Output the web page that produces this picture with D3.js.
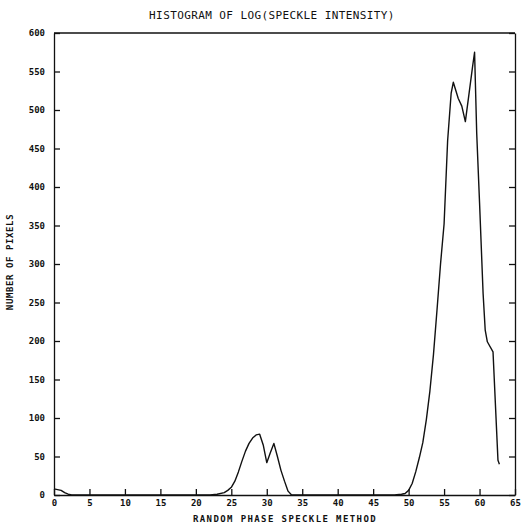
<!DOCTYPE html>
<html>
<head>
<meta charset="utf-8">
<script src="https://cdn.jsdelivr.net/npm/d3@7"></script>
<style>
  body { margin: 0; background: #fff; }
  svg { display: block; }
  .axis text { font-family: "DejaVu Sans Mono", monospace; font-weight: bold; font-size: 9px; fill: #111; }
  .axis path, .axis line { stroke: #111; stroke-width: 1.3; }
  .lbl { font-family: "DejaVu Sans Mono", monospace; fill: #111; }
</style>
</head>
<body>
<svg width="522" height="529"></svg>
<script>
// log intensity bins (x) and pixel counts (y)
const logIntensity = [0, 0.5, 1, 1.5, 2, 2.5, 10, 20, 22, 23, 24, 24.5, 25, 25.5, 26, 26.5, 27, 27.5, 28, 28.5, 29,
  29.5, 30, 30.5, 31, 31.5, 32, 32.5, 33, 33.5, 40, 48, 49, 49.5, 50, 50.5, 51, 51.5, 52, 52.5, 53, 53.5, 54, 54.5,
  55, 55.5, 56, 56.3, 57, 57.5, 58, 58.5, 59, 59.3, 59.6, 60, 60.5, 60.8, 61.1, 61.9, 62.6, 62.8]
const pixelCount = [8, 7, 6, 3, 1, 0, 0, 0, 0, 1, 3, 6, 10, 18, 30, 44, 57, 67, 74, 78, 79,
  65, 42, 55, 67, 50, 32, 18, 5, 0, 0, 0, 1, 2, 6, 15, 30, 48, 68, 98, 135, 182, 240, 300,
  352, 460, 522, 536, 515, 505, 485, 520, 555, 575, 470, 380, 262, 214, 199, 186, 45, 40]

const xTicks = d3.range(0, 66, 5)
const yTicks = d3.range(0, 601, 50)

const LEFT = 54, RIGHT = 515, TOP = 33, BOTTOM = 495

const x = d3.scaleLinear().domain([0, 65]).range([LEFT, RIGHT])
const y = d3.scaleLinear().domain([0, 600]).range([BOTTOM, TOP])

const svg = d3.select("svg")

// frame: top line
svg.append("line")
  .attr("x1", LEFT).attr("x2", RIGHT).attr("y1", TOP).attr("y2", TOP)
  .attr("stroke", "#111").attr("stroke-width", 1.3)

svg.append("g")
  .attr("class", "axis")
  .attr("transform", `translate(0,${BOTTOM})`)
  .call(d3.axisBottom(x).tickValues(xTicks).tickSizeInner(-6).tickSizeOuter(0).tickPadding(5))

svg.append("g")
  .attr("class", "axis")
  .attr("transform", `translate(${LEFT},0)`)
  .call(d3.axisLeft(y).tickValues(yTicks).tickSizeInner(-6).tickSizeOuter(0).tickPadding(9))

svg.append("g")
  .attr("class", "axis")
  .attr("transform", `translate(${RIGHT},0)`)
  .call(d3.axisRight(y).tickValues(yTicks).tickSizeInner(-6).tickSizeOuter(0).tickFormat(""))

const line = d3.line()
  .x((d, i) => x(logIntensity[i]))
  .y(d => y(d))

svg.append("path")
  .datum(pixelCount)
  .attr("d", line)
  .attr("fill", "none")
  .attr("stroke", "#111")
  .attr("stroke-width", 1.4)
  .attr("stroke-linejoin", "round")

svg.append("text")
  .attr("class", "lbl")
  .attr("x", 272).attr("y", 19)
  .attr("text-anchor", "middle")
  .attr("font-size", 11)
  .attr("letter-spacing", 0.4)
  .text("HISTOGRAM OF LOG(SPECKLE INTENSITY)")

svg.append("text")
  .attr("class", "lbl")
  .attr("x", 285).attr("y", 522)
  .attr("text-anchor", "middle")
  .attr("font-size", 9)
  .attr("font-weight", "bold")
  .attr("letter-spacing", 1.4)
  .text("RANDOM PHASE SPECKLE METHOD")

svg.append("text")
  .attr("class", "lbl")
  .attr("transform", "translate(13,262) rotate(-90)")
  .attr("text-anchor", "middle")
  .attr("font-size", 9)
  .attr("font-weight", "bold")
  .attr("letter-spacing", 0.6)
  .text("NUMBER OF PIXELS")
</script>
</body>
</html>
